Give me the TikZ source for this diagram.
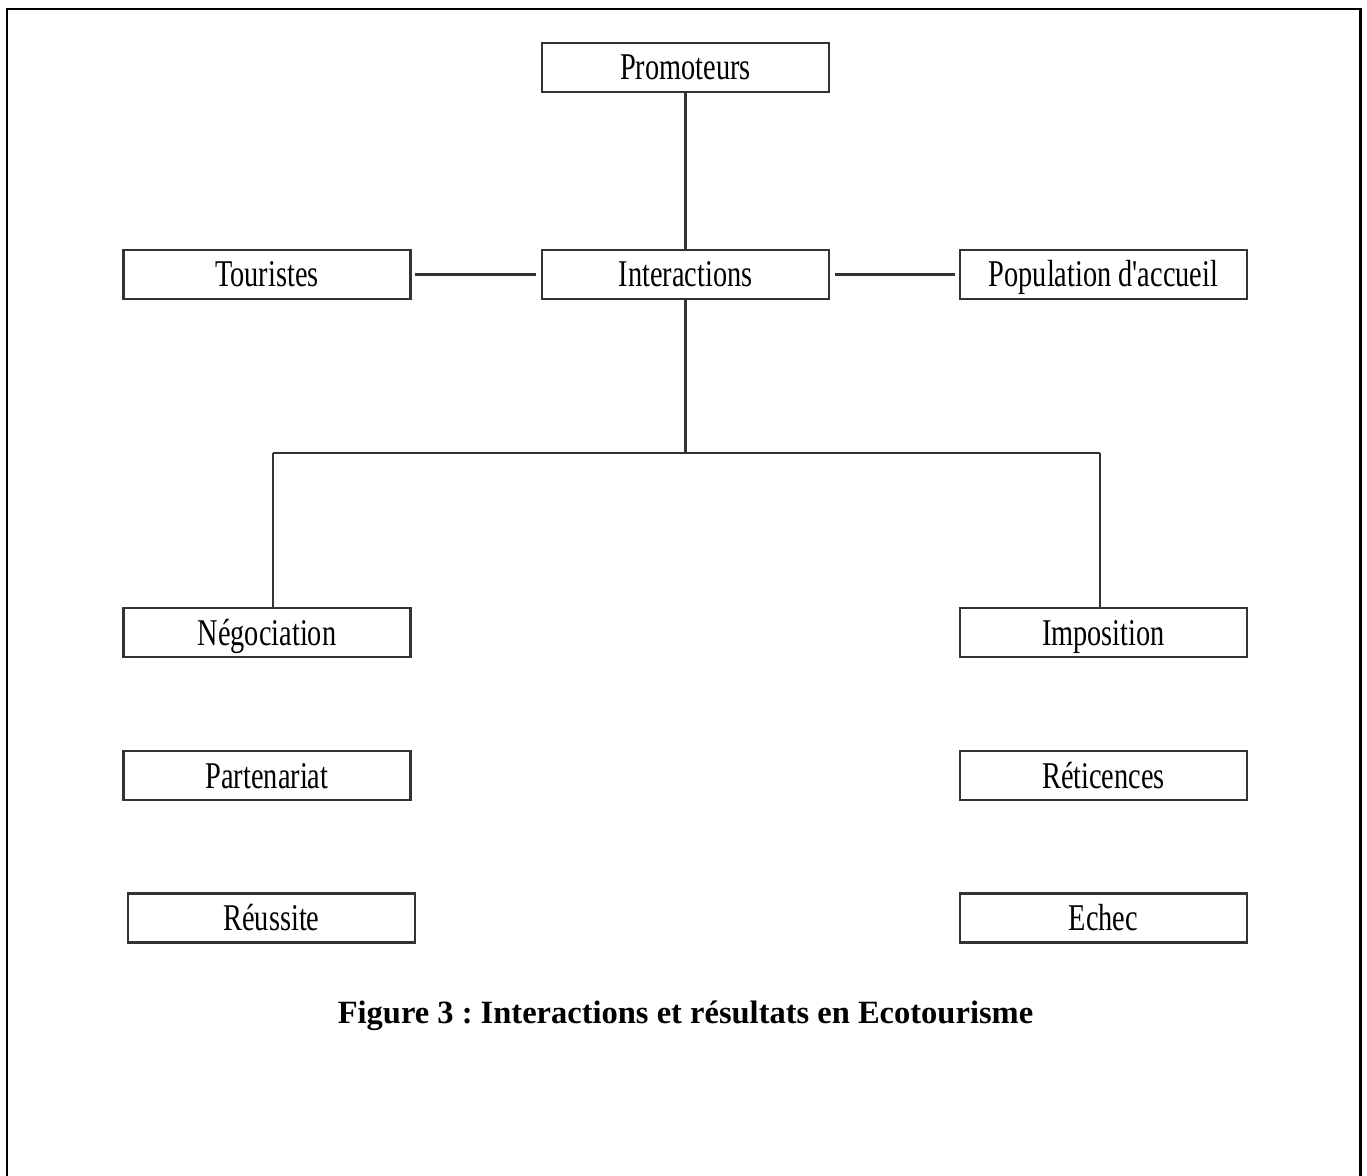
\documentclass[tikz,border=0pt]{standalone}
\usepackage{fontspec}
\setmainfont{Liberation Serif}
\newfontfamily\boxfont[FakeStretch=0.75]{Liberation Serif}
\usetikzlibrary{positioning,calc}
\frenchspacing

\begin{document}
\begin{tikzpicture}[x=0.02cm, y=-0.02cm,
	basic/.style = {draw=black!80, line width=1.4pt, rectangle, inner sep=0pt,
		minimum width=5.74cm, minimum height=0.98cm, text height=0.5cm, text depth=0pt,
		font=\boxfont\fontsize{21.5pt}{24pt}\selectfont},
	link/.style  = {draw=black!80, line width=1.4pt},
	caption/.style = {anchor=base, font=\bfseries\fontsize{18.5pt}{22pt}\selectfont}]
	
	% frame round the whole figure
	\useasboundingbox (0,0) rectangle (1367,1176);
	\draw[line width=1.7pt] (7,1190) -- (7,9) -- (1360,9) -- (1360,1190);
	
	% actors and their interactions
	\node[basic] (prom)  at (685.5,67.5)  {Promoteurs};
	\node[basic] (inter) at (685.5,274.5) {Interactions};
	\node[basic] (tour)  at (267,274.5)   {Touristes};
	\node[basic] (pop)   at (1103.5,274.5) {Population d'accueil};
	
	% the two ways, left and right
	\begin{scope}[every node/.style={basic}]
	\node (nego)  at (267,632.5)    {Négociation};
	\node (part)  at (267,775.5)    {Partenariat};
	\node (reus)  at (271.5,918)    {Réussite};
	\node (impo)  at (1103.5,632.5) {Imposition};
	\node (reti)  at (1103.5,775.5) {Réticences};
	\node (echec) at (1103.5,918)   {Echec};
	\end{scope}
	
	\node[caption] (cap) at (685.5,1023) {Figure 3 : Interactions et résultats en Ecotourisme};
	
	% lines between the boxes
	\draw[link] (prom) -- (inter);
	\draw[link, shorten <=2pt, shorten >=3pt] (tour) -- (inter);
	\draw[link, shorten <=3pt, shorten >=2pt] (inter) -- (pop);
	
	\coordinate (fork) at (685.5,453);
	\coordinate (jl) at (273,453);
	\coordinate (jr) at (1100,453);
	\draw[link] (inter) -- (fork);
	\draw[link] (jl) -- (jr);
	\draw[link] (jl) -- (jl |- nego.north);
	\draw[link] (jr) -- (jr |- impo.north);
	
\end{tikzpicture}
\end{document}
